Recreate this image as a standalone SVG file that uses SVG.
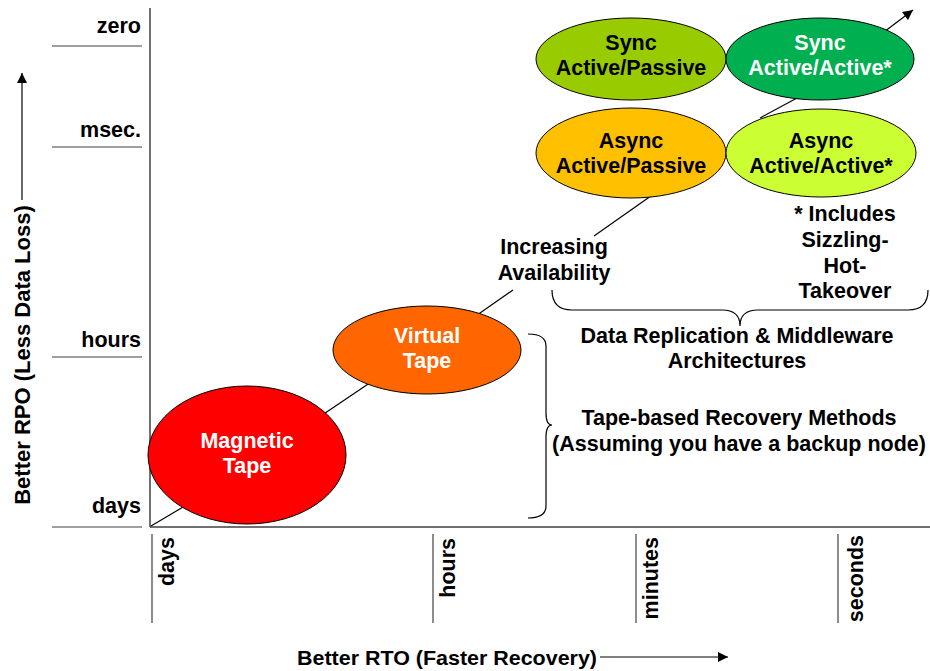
<svg xmlns="http://www.w3.org/2000/svg" width="930" height="671" viewBox="0 0 930 671">
  <defs>
    <marker id="ah" viewBox="0 0 10 10" refX="10" refY="5" markerWidth="12" markerHeight="10" markerUnits="userSpaceOnUse" orient="auto">
      <path d="M0,0 L10,5 L0,10 z" fill="#000"/>
    </marker>
  </defs>
  <style>
    text { font-family: "Liberation Sans", Arial, sans-serif; font-weight: bold; font-size: 21.5px; fill: #000; }
    .c { text-anchor: middle; }
    .r { text-anchor: end; }
    .w { fill: #fff; }
    .axis { stroke: #404040; stroke-width: 1.5; fill: none; }
    .tick { stroke: #404040; stroke-width: 1.2; fill: none; }
    .ln { stroke: #000; stroke-width: 1.2; fill: none; }
    .node ellipse { stroke: #000; stroke-width: 1; }
    .brace { stroke: #000; stroke-width: 1.2; fill: none; }
  </style>
  <rect width="930" height="671" fill="#fff"/>

  <g id="axes">
    <line class="axis" x1="150" y1="8" x2="150" y2="527"/>
    <line class="axis" x1="150" y1="527" x2="930" y2="527"/>
    <line class="tick" x1="52" y1="46" x2="142" y2="46"/>
    <line class="tick" x1="52" y1="147" x2="142" y2="147"/>
    <line class="tick" x1="52" y1="357" x2="142" y2="357"/>
    <line class="tick" x1="52" y1="527" x2="142" y2="527"/>
    <line class="tick" x1="152" y1="534" x2="152" y2="623"/>
    <line class="tick" x1="433" y1="534" x2="433" y2="623"/>
    <line class="tick" x1="636" y1="534" x2="636" y2="623"/>
    <line class="tick" x1="838" y1="534" x2="838" y2="623"/>
    <text class="r" x="141" y="33">zero</text>
    <text class="r" x="141" y="137">msec.</text>
    <text class="r" x="141" y="347">hours</text>
    <text class="r" x="141" y="513">days</text>
    <text class="r" transform="translate(174,537) rotate(-90)">days</text>
    <text class="r" transform="translate(455,538) rotate(-90)">hours</text>
    <text class="r" transform="translate(658,537) rotate(-90)">minutes</text>
    <text class="r" transform="translate(863,535) rotate(-90)">seconds</text>
    <text class="c" style="font-size:22px" transform="translate(30,355) rotate(-90)">Better RPO (Less Data Loss)</text>
    <line class="ln" x1="22" y1="200" x2="22" y2="73" marker-end="url(#ah)"/>
    <text x="297" y="665" style="font-size:21px" textLength="300" lengthAdjust="spacingAndGlyphs">Better RTO (Faster Recovery)</text>
    <line class="ln" x1="600" y1="657" x2="728" y2="657" marker-end="url(#ah)"/>
  </g>

  <g id="connectors">
    <line class="ln" x1="151" y1="526" x2="200" y2="497"/>
    <line class="ln" x1="300" y1="430" x2="380" y2="376"/>
    <line class="ln" x1="470" y1="320" x2="513" y2="290"/>
    <line class="ln" x1="594" y1="236" x2="658" y2="191"/>
    <line class="ln" x1="760" y1="118" x2="810" y2="91"/>
    <line class="ln" x1="880" y1="35" x2="913" y2="10" marker-end="url(#ah)"/>
  </g>

  <g id="magnetic-tape" class="node">
    <ellipse cx="247" cy="455" rx="99" ry="69" fill="#FF0000"/>
    <text class="c w" x="247" y="448">Magnetic</text>
    <text class="c w" x="247" y="473">Tape</text>
  </g>
  <g id="virtual-tape" class="node">
    <ellipse cx="427" cy="350" rx="94" ry="44" fill="#FF6600"/>
    <text class="c w" x="427" y="343">Virtual</text>
    <text class="c w" x="427" y="368">Tape</text>
  </g>
  <g id="sync-ap" class="node">
    <ellipse cx="631" cy="59" rx="95" ry="41" fill="#99CC00"/>
    <text class="c" x="631" y="50">Sync</text>
    <text class="c" x="631" y="75">Active/Passive</text>
  </g>
  <g id="sync-aa" class="node">
    <ellipse cx="820" cy="59" rx="94" ry="41" fill="#00B050"/>
    <text class="c w" x="820" y="50">Sync</text>
    <text class="c w" x="820" y="75">Active/Active*</text>
  </g>
  <g id="async-ap" class="node">
    <ellipse cx="631" cy="153" rx="95" ry="45" fill="#FFC000"/>
    <text class="c" x="631" y="148">Async</text>
    <text class="c" x="631" y="173">Active/Passive</text>
  </g>
  <g id="async-aa" class="node">
    <ellipse cx="821" cy="153" rx="95" ry="44" fill="#CCFF33"/>
    <text class="c" x="821" y="148">Async</text>
    <text class="c" x="821" y="173">Active/Active*</text>
  </g>

  <g id="increasing-availability">
    <text class="c" x="554" y="254">Increasing</text>
    <text class="c" x="554" y="280">Availability</text>
  </g>

  <g id="includes-note">
    <text class="c" x="845" y="221">* Includes</text>
    <text class="c" x="845" y="247">Sizzling-</text>
    <text class="c" x="845" y="273">Hot-</text>
    <text class="c" x="845" y="298">Takeover</text>
  </g>

  <g id="data-replication">
    <path class="brace" d="M552,290 Q552,310 572,310 L722,310 Q740,310 740,326 Q740,310 758,310 L908,310 Q928,310 928,290"/>
    <text class="c" x="737" y="343">Data Replication &amp; Middleware</text>
    <text class="c" x="737" y="368">Architectures</text>
  </g>

  <g id="tape-based">
    <path class="brace" d="M528,334 Q546,334 546,346 L546,413 Q546,425 552,425 Q546,425 546,437 L546,506 Q546,518 528,518"/>
    <text class="c" x="739" y="425">Tape-based Recovery Methods</text>
    <text class="c" x="739" y="451">(Assuming you have a backup node)</text>
  </g>
</svg>
